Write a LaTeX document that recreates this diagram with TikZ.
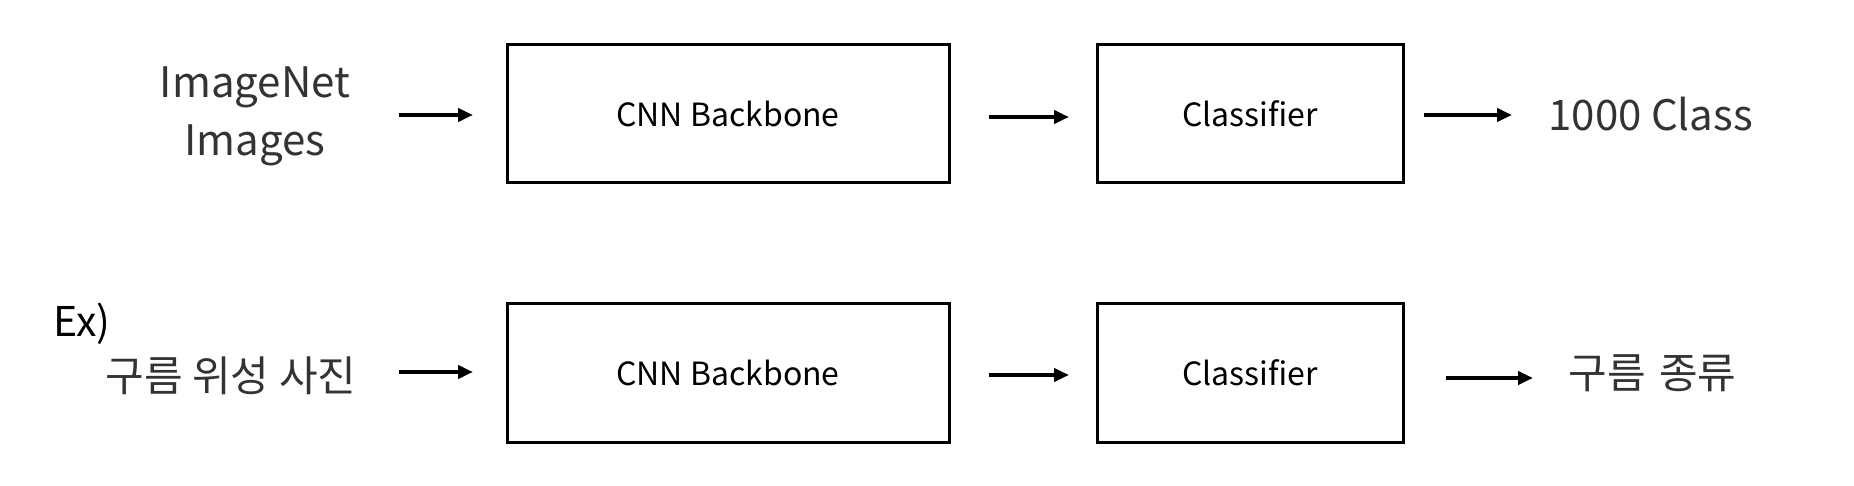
\documentclass[tikz,border=0pt]{standalone}
\usepackage{fontspec}
\setmainfont{Noto Sans CJK KR}
\usetikzlibrary{arrows.meta}
\begin{document}
\begin{tikzpicture}[x=0.5pt,y=-0.5pt,
  blk/.style={draw=black,line width=1.5pt,minimum width=221pt,minimum height=69pt,inner sep=0pt,font=\fontsize{16}{19}\selectfont},
  clsbox/.style={blk,minimum width=153pt},
  lbl/.style={inner sep=0pt,text=black!80,font=\fontsize{21}{29}\selectfont},
  arr/.style={line width=2pt,-{Triangle[length=7.5pt,width=6.5pt]}}]
\fill[white] (0,0) rectangle (1854,486);
\useasboundingbox (0,0) rectangle (1854,486);
% row 1
\node[lbl,align=center] (in1) at (255,116) {ImageNet\\Images};
\node[blk] (b1) at (728,114) {CNN Backbone};
\node[clsbox] (c1) at (1250,114) {Classifier};
\node[lbl,anchor=west] (out1) at (1548,114) {1000 Class};
\coordinate (a1s) at (399,115); \coordinate (a1e) at (473,115);
\coordinate (a2s) at (989,117); \coordinate (a2e) at (1069,117);
\coordinate (a3s) at (1424,115); \coordinate (a3e) at (1512,115);
\draw[arr] (a1s) -- (a1e);
\draw[arr] (a2s) -- (a2e);
\draw[arr] (a3s) -- (a3e);
% row 2
\node[inner sep=0pt,anchor=base west,font=\fontsize{20.5}{24}\selectfont] (ex) at (53,337) {Ex)};
\node[lbl] (in2) at (231,376) {구름 위성 사진};
\node[blk] (b2) at (728,373) {CNN Backbone};
\node[clsbox] (c2) at (1250,373) {Classifier};
\node[lbl,anchor=west] (out2) at (1568,373) {구름 {\hspace{0.1em}}종류};
\coordinate (a4s) at (399,372); \coordinate (a4e) at (473,372);
\coordinate (a5s) at (989,375); \coordinate (a5e) at (1069,375);
\coordinate (a6s) at (1446,378); \coordinate (a6e) at (1533,378);
\draw[arr] (a4s) -- (a4e);
\draw[arr] (a5s) -- (a5e);
\draw[arr] (a6s) -- (a6e);
\end{tikzpicture}
\end{document}
